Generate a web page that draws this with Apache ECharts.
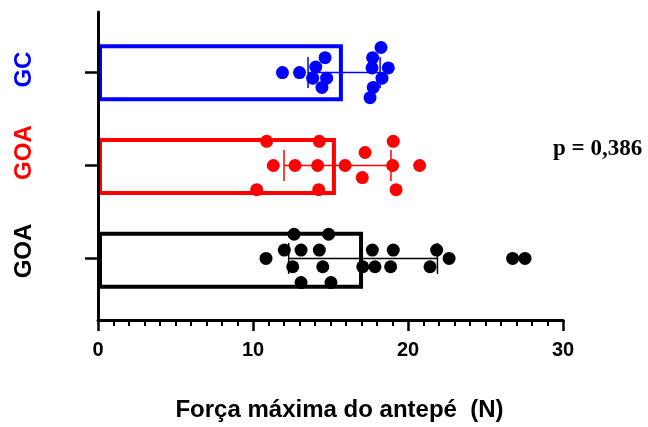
<!DOCTYPE html>
<html>
<head>
<meta charset="utf-8">
<script src="https://cdn.jsdelivr.net/npm/echarts@6.0.0/dist/echarts.min.js"></script>
<style>
  html, body { margin: 0; padding: 0; background: #fff; }
  #chart { width: 648px; height: 427px; }
</style>
</head>
<body>
<div id="chart"></div>
<script>
// grupos de baixo para cima
var groups = ['GOA', 'GOA', 'GC'];
var colors = ['#000000', '#ff0000', '#0000ff'];
var means = [17.1, 15.35, 15.8];
var errLow = [12.3, 12.0, 13.55];
var errHigh = [21.9, 18.9, 18.2];
var xTicks = [0, 10, 20, 30];

// pontos individuais: valor e deslocamento vertical (em unidades de categoria)
var goaBlackX = [10.84, 12.02, 12.65, 13.1, 12.56, 13.1, 14.28, 14.88, 14.5, 15.03, 17.08, 17.7, 17.87, 19.05, 18.88, 21.85, 21.42, 22.65, 26.75, 27.55];
var goaBlackJ = [0, 0.09, 0.26, 0.09, -0.09, -0.26, 0.09, 0.26, -0.09, -0.26, -0.09, 0.09, -0.09, 0.09, -0.09, 0.09, -0.09, 0, 0, 0];
var goaRedX = [10.88, 14.28, 11.31, 12.71, 14.17, 15.94, 19.01, 20.75, 17.23, 17.05, 19.05, 19.23, 10.24, 14.24];
var goaRedJ = [0.26, 0.26, 0, 0, 0, 0, 0, 0, 0.14, -0.13, 0.26, -0.26, -0.26, -0.26];
var gcX = [11.9, 13.0, 14.65, 14.05, 13.85, 14.75, 14.45, 18.26, 17.72, 17.68, 18.73, 18.32, 17.76, 17.55];
var gcJ = [0, 0, 0.16, 0.06, -0.06, -0.06, -0.16, 0.27, 0.16, 0.05, 0.05, -0.06, -0.16, -0.27];

var pValue = 'p = 0,386';

function pts(xs, js, idx) {
	var out = [];
	for (var i = 0; i < xs.length; i++) {
		out.push([xs[i], idx + js[i]]);
	}
	return out;
}

var font = 'Liberation Sans, Arial, sans-serif';
var myChart = echarts.init(document.getElementById('chart'));

var barData = [];
var errData = [];
for (var i = 0; i < means.length; i++) {
	barData.push({ value: means[i], itemStyle: { borderColor: colors[i] } });
	errData.push([errLow[i], errHigh[i], i]);
}

// os rótulos do GraphPad ficam um pouco acima dos ticks
var labelPos = [0.08, 1.139, 2.032];

var option = {
	backgroundColor: '#fff',
	animation: false,
	grid: [
		{ left: 98, right: 85, top: 12, bottom: 105 },
		{ left: 98, right: 85, top: 26, bottom: 120 }
	],
	xAxis: [{
		type: 'value',
		gridIndex: 0,
		min: 0,
		max: 30,
		interval: 10,
		z: 5,
		axisLine: { show: true, onZero: false, lineStyle: { color: '#000', width: 3 } },
		axisTick: { show: true, length: 11, lineStyle: { color: '#000', width: 2.5 } },
		minorTick: { show: true, splitNumber: 10, length: 6, lineStyle: { color: '#000', width: 2 } },
		splitLine: { show: false },
		axisLabel: {
			margin: 20, color: '#000', fontSize: 20, fontWeight: 'bold', fontFamily: font,
			customValues: xTicks
		},
		name: 'Força máxima do antepé  (N)',
		nameLocation: 'middle',
		nameGap: 78,
		nameTextStyle: { color: '#000', fontSize: 24, fontWeight: 'bold', fontFamily: font, padding: [0, 0, 0, 18] }
	}, {
		type: 'value',
		gridIndex: 1,
		min: 0,
		max: 30,
		show: false
	}],
	yAxis: [{
		type: 'value',
		gridIndex: 0,
		min: -0.663,
		max: 2.652,
		z: 5,
		axisLine: { show: true, onZero: false, lineStyle: { color: '#000', width: 3 } },
		axisTick: { show: true, length: 13, lineStyle: { color: '#000', width: 2.5 }, customValues: [0, 1, 2] },
		splitLine: { show: false },
		axisLabel: {
			customValues: labelPos,
			rotate: 90,
			margin: 62,
			formatter: function (v) {
				var k = Math.round(v);
				return '{c' + k + '|' + groups[k] + '}';
			},
			rich: {
				c0: { color: colors[0], fontSize: 24, fontWeight: 'bold', fontFamily: font },
				c1: { color: colors[1], fontSize: 24, fontWeight: 'bold', fontFamily: font },
				c2: { color: colors[2], fontSize: 24, fontWeight: 'bold', fontFamily: font }
			}
		}
	}, {
		type: 'category',
		gridIndex: 1,
		data: [0, 1, 2],
		show: false
	}],
	graphic: [{
		type: 'text',
		left: 553,
		top: 138,
		style: {
			text: pValue,
			fill: '#000',
			font: 'bold 23px "Liberation Serif", "Times New Roman", serif'
		}
	}],
	series: [{
		type: 'bar',
		xAxisIndex: 1,
		yAxisIndex: 1,
		barWidth: 57,
		z: 1,
		data: barData,
		itemStyle: { color: 'rgba(255,255,255,0)', borderWidth: 4 }
	}, {
		type: 'custom',
		xAxisIndex: 0,
		yAxisIndex: 0,
		z: 3,
		data: errData,
		renderItem: function (params, api) {
			var idx = api.value(2);
			var a = api.coord([api.value(0), idx]);
			var b = api.coord([api.value(1), idx]);
			var h = 15.5;
			var st = { stroke: colors[idx], lineWidth: 1.5 };
			return {
				type: 'group',
				children: [
					{ type: 'line', shape: { x1: a[0], y1: a[1], x2: b[0], y2: b[1] }, style: st },
					{ type: 'line', shape: { x1: a[0], y1: a[1] - h, x2: a[0], y2: a[1] + h }, style: st },
					{ type: 'line', shape: { x1: b[0], y1: b[1] - h, x2: b[0], y2: b[1] + h }, style: st }
				]
			};
		}
	}, {
		type: 'scatter',
		xAxisIndex: 0,
		yAxisIndex: 0,
		z: 4,
		symbolSize: 13,
		itemStyle: { color: colors[0], opacity: 1 },
		data: pts(goaBlackX, goaBlackJ, 0)
	}, {
		type: 'scatter',
		xAxisIndex: 0,
		yAxisIndex: 0,
		z: 4,
		symbolSize: 13,
		itemStyle: { color: colors[1], opacity: 1 },
		data: pts(goaRedX, goaRedJ, 1)
	}, {
		type: 'scatter',
		xAxisIndex: 0,
		yAxisIndex: 0,
		z: 4,
		symbolSize: 13,
		itemStyle: { color: colors[2], opacity: 1 },
		data: pts(gcX, gcJ, 2)
	}]
};
myChart.setOption(option);
</script>
</body>
</html>
